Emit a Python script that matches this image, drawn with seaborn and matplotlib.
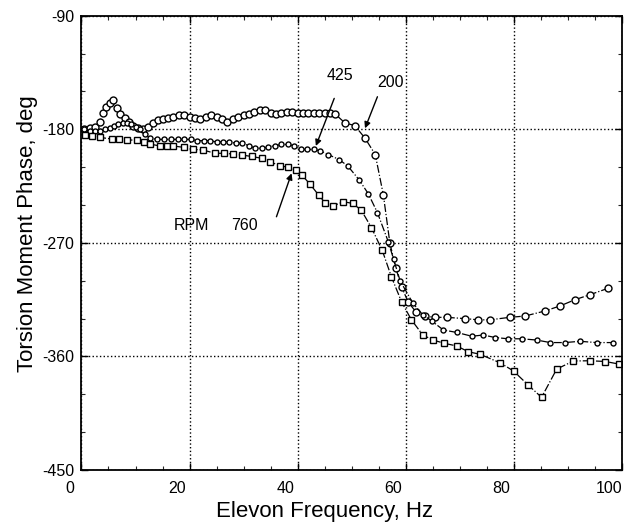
import matplotlib
matplotlib.use("Agg")
import matplotlib.pyplot as plt
import matplotlib.transforms as mtransforms
from matplotlib.ticker import MultipleLocator
import seaborn as sns
import pandas as pd

# ---- data ----
freq_200 = [0.5, 1.5, 2.5, 3.4, 4.0, 4.6, 5.3, 5.8, 6.5, 7.2, 8.0, 8.8, 9.6, 10.5, 11.4,
            12.3, 13.2, 14.1, 15.0, 16.0, 17.0, 18.0, 19.0, 20.0, 21.0, 22.0, 23.0, 24.0,
            25.0, 26.0, 27.0, 28.0, 29.0, 30.0, 31.0, 32.0, 33.0, 34.0, 35.0, 36.0, 37.0,
            38.0, 39.0, 40.0, 41.0, 42.0, 43.0, 44.0, 45.0, 46.0, 47.0, 48.8, 50.6, 52.5,
            54.4, 55.9, 57.1, 58.2, 59.3, 60.5, 62.0, 63.6, 65.4, 67.6, 71.0, 73.5, 75.6,
            79.3, 82.1, 85.8, 88.6, 91.4, 94.2, 97.5]
phase_200 = [-180, -179, -178, -174, -167, -162, -159, -157, -163, -168, -171, -174, -177,
             -179, -180, -178, -175, -173, -172, -171, -170, -169, -169, -170, -171, -172,
             -170, -169, -170, -172, -174, -172, -170, -169, -168, -166, -165, -165, -167,
             -168, -167, -166, -166, -167, -167, -167, -167, -167, -167, -167, -168, -175,
             -177, -187, -200, -232, -270, -290, -305, -317, -325, -328, -329, -329, -330,
             -331, -331, -329, -328, -324, -320, -315, -311, -306]

freq_425 = [0.5, 1.5, 2.5, 3.4, 4.3, 5.3, 6.0, 6.8, 7.6, 8.4, 9.2, 10.0, 10.8, 11.7, 12.7,
            14.0, 15.3, 16.5, 17.8, 19.0, 20.2, 21.4, 22.6, 23.8, 25.0, 26.2, 27.4, 28.6,
            29.8, 31.0, 32.2, 33.4, 34.6, 35.8, 37.0, 38.2, 39.4, 40.6, 41.8, 43.0, 44.2,
            45.7, 47.7, 49.3, 51.4, 53.1, 54.8, 56.8, 57.8, 59.0, 61.4, 63.2, 64.9, 67.0,
            69.5, 72.3, 74.4, 76.6, 79.0, 81.5, 84.3, 86.8, 89.5, 92.3, 95.4, 98.5]
phase_425 = [-180, -181, -181, -181, -180, -179, -177, -176, -175, -175, -176, -178, -180,
             -184, -187, -188, -188, -188, -188, -188, -188, -189, -189, -189, -190, -190,
             -190, -191, -191, -193, -195, -195, -194, -193, -192, -192, -193, -196, -196,
             -196, -197, -200, -204, -209, -220, -231, -246, -269, -283, -300, -318, -327,
             -332, -339, -341, -344, -343, -345, -346, -346, -347, -349, -349, -348, -349,
             -349]

freq_760 = [0.65, 2.0, 3.4, 5.6, 7.0, 8.4, 10.2, 11.5, 12.7, 14.5, 15.8, 17.0, 18.9, 20.7,
            22.5, 24.7, 26.3, 28.1, 29.7, 31.5, 33.4, 34.9, 36.8, 38.3, 39.7, 40.8, 42.3,
            43.9, 45.1, 46.5, 48.5, 50.2, 51.8, 53.7, 55.7, 57.4, 59.3, 61.1, 63.2, 65.1,
            67.2, 69.5, 71.6, 73.8, 77.5, 80.0, 82.7, 85.2, 88.0, 91.1, 94.2, 97.0, 99.5]
phase_760 = [-184.6, -185.5, -186.4, -187.7, -188.0, -188.5, -188.5, -190.0, -191.7, -193.2,
             -193.0, -193.2, -194.3, -195.9, -196.4, -199.0, -199.0, -199.6, -200.4, -201.5,
             -203.0, -205.7, -209.0, -210.0, -212.3, -216.2, -223.4, -232.0, -238.2, -240.8,
             -237.4, -238.7, -244.0, -258.0, -276.0, -297.0, -317.0, -331.0, -343.0, -347.0,
             -349.6, -351.7, -356.2, -358.3, -365.0, -371.5, -382.6, -392.4, -370.0, -363.6,
             -363.4, -364.0, -366.0]

x_ticks = [0, 20, 40, 60, 80, 100]
y_ticks = [-450, -360, -270, -180, -90]

# ---- figure ----
sns.set_theme(style="white")
plt.rcParams["font.family"] = ["Liberation Sans", "DejaVu Sans"]
plt.rcParams["axes.unicode_minus"] = False

fig = plt.figure(figsize=(6.25, 5.28), dpi=100)
ax = fig.add_axes([0.1304, 0.1098, 0.864, 0.8604])

series = [
    (freq_200, phase_200, "o", 5.0, 1.0, "-."),
    (freq_425, phase_425, "o", 3.6, 1.0, "-."),
    (freq_760, phase_760, "s", 5.0, 1.0, "-."),
]
for fx, py, mk, ms, mew, ls in series:
    df = pd.DataFrame({"f": fx, "p": py})
    sns.lineplot(data=df, x="f", y="p", ax=ax, estimator=None, sort=False,
                 color="black", linestyle=ls, linewidth=0.9,
                 marker=mk, markersize=ms, markerfacecolor="white",
                 markeredgecolor="black", markeredgewidth=mew)

ax.set_xlim(0, 100)
ax.set_ylim(-450, -90)
ax.set_xticks(x_ticks)
ax.set_yticks(y_ticks)
ax.xaxis.set_minor_locator(MultipleLocator(5))
ax.yaxis.set_minor_locator(MultipleLocator(30))
ax.tick_params(which="major", direction="in", length=5, width=1.0,
               top=True, right=True, bottom=True, left=True,
               labelsize=11.5, colors="black", pad=5)
ax.tick_params(axis="x", which="major", pad=8)
ax.tick_params(which="minor", direction="in", length=3, width=0.8,
               top=True, right=True, bottom=True, left=True)

# x tick labels in the reference sit a little left of their ticks
offset = mtransforms.ScaledTranslation(-0.12, 0, fig.dpi_scale_trans)
for lab in ax.get_xticklabels():
    lab.set_transform(lab.get_transform() + offset)

ax.grid(True, which="major", linestyle=":", color="black", linewidth=1.0)
for s in ax.spines.values():
    s.set_color("black")
    s.set_linewidth(1.3)
    s.set_visible(True)

ax.set_xlabel("Elevon Frequency, Hz", fontsize=16, color="black")
ax.set_ylabel("Torsion Moment Phase, deg", fontsize=16, color="black")
ax.xaxis.set_label_coords(0.451, -0.092)
ax.xaxis.label.set_va("center")
ax.yaxis.set_label_coords(-0.1, 0.52)
ax.yaxis.label.set_va("center")

# annotations
arrow = dict(arrowstyle="-|>", color="black", lw=1.0, mutation_scale=9,
             shrinkA=0, shrinkB=0)
ax.text(47.9, -137, "425", fontsize=11.5, ha="center", va="center", color="black")
ax.annotate("", xy=(43.4, -193.2), xytext=(46.8, -155.5), arrowprops=arrow)
ax.text(57.3, -143, "200", fontsize=11.5, ha="center", va="center", color="black")
ax.annotate("", xy=(52.5, -179.2), xytext=(54.8, -154.2), arrowprops=arrow)
ax.text(17.0, -256, "RPM", fontsize=11.5, ha="left", va="center", color="black")
ax.text(27.8, -256, "760", fontsize=11.5, ha="left", va="center", color="black")
ax.annotate("", xy=(38.9, -214.9), xytext=(36.1, -249.3), arrowprops=arrow)

fig.savefig("out.png", dpi=100)
